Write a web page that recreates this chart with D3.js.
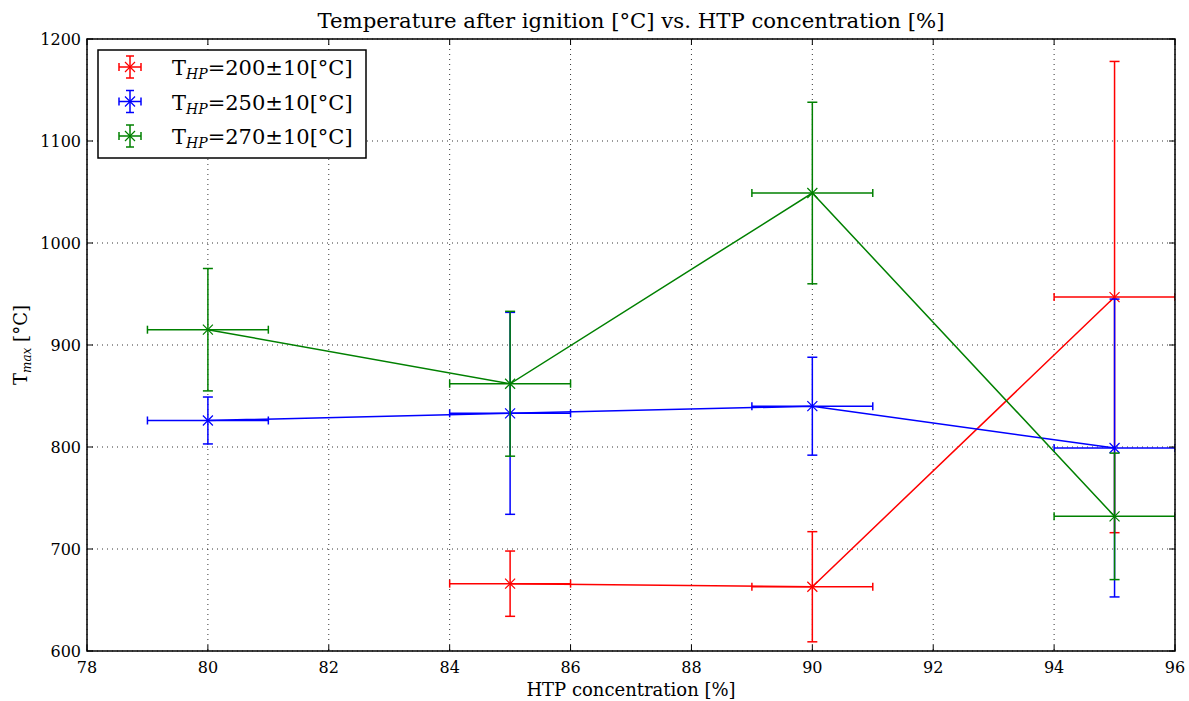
<!DOCTYPE html>
<html>
<head>
<meta charset="utf-8">
<script src="https://cdn.jsdelivr.net/npm/d3@7"></script>
<style>
  body { margin: 0; background: #fff; }
  svg text { font-family: "DejaVu Serif", "Liberation Serif", serif; fill: #000; }
</style>
</head>
<body>
<svg id="chart" width="1189" height="701"></svg>
<script>
// HTP concentration [%] for each measurement
const concentration = [80, 85, 90, 95];

// Series: peak temperature after ignition, with y errors; x error is ±1 %
const seriesNames = ["200", "250", "270"];
const seriesColors = ["#ff0000", "#0000ff", "#008000"];

const tmax200 = [null, 666, 663, 947];
const err200  = [null, 32, 54, 231];

const tmax250 = [826, 833, 840, 799];
const err250  = [23, 99, 48, 146];

const tmax270 = [915, 862, 1049, 732];
const err270  = [60, 71, 89, 62];

const xErr = 1;

const xTicks = [78, 80, 82, 84, 86, 88, 90, 92, 94, 96];
const yTicks = [600, 700, 800, 900, 1000, 1100, 1200];

const series = [
  { name: seriesNames[0], color: seriesColors[0], y: tmax200, e: err200 },
  { name: seriesNames[1], color: seriesColors[1], y: tmax250, e: err250 },
  { name: seriesNames[2], color: seriesColors[2], y: tmax270, e: err270 }
];

const svg = d3.select("#chart");
const pL = 87, pR = 1175, pT = 39, pB = 651;

const x = d3.scaleLinear().domain([78, 96]).range([pL, pR]);
const y = d3.scaleLinear().domain([600, 1200]).range([pB, pT]);

svg.append("defs").append("clipPath").attr("id", "plotClip")
  .append("rect").attr("x", pL).attr("y", pT)
  .attr("width", pR - pL).attr("height", pB - pT);

// dotted grid
const grid = svg.append("g");
grid.selectAll(".gx").data(xTicks).join("line")
  .attr("x1", d => x(d)).attr("x2", d => x(d))
  .attr("y1", pT).attr("y2", pB)
  .attr("stroke", "#000").attr("stroke-width", 0.8).attr("stroke-dasharray", "1,4");
grid.selectAll(".gy").data(yTicks).join("line")
  .attr("x1", pL).attr("x2", pR)
  .attr("y1", d => y(d)).attr("y2", d => y(d))
  .attr("stroke", "#000").attr("stroke-width", 0.8).attr("stroke-dasharray", "1,4");

// data layer
const plot = svg.append("g").attr("clip-path", "url(#plotClip)");
const capV = 5, capH = 4, mk = 5;

series.forEach(s => {
  const pts = concentration.map((c, i) => ({ c, v: s.y[i], e: s.e[i] }))
    .filter(p => p.v !== null);
  const g = plot.append("g");
  // connecting line
  g.append("path").datum(pts)
    .attr("fill", "none").attr("stroke", s.color).attr("stroke-width", 1.5)
    .attr("d", d3.line().x(p => x(p.c)).y(p => y(p.v)));
  pts.forEach(p => {
    const cx = x(p.c), cy = y(p.v);
    const yTop = y(p.v + p.e), yBot = y(p.v - p.e);
    const xl = x(p.c - xErr), xr = x(p.c + xErr);
    const eb = g.append("g").attr("stroke", s.color).attr("stroke-width", 1.5).attr("fill", "none");
    // vertical error bar with caps
    eb.append("line").attr("x1", cx).attr("x2", cx).attr("y1", yTop).attr("y2", yBot);
    eb.append("line").attr("x1", cx - capV).attr("x2", cx + capV).attr("y1", yTop).attr("y2", yTop);
    eb.append("line").attr("x1", cx - capV).attr("x2", cx + capV).attr("y1", yBot).attr("y2", yBot);
    // horizontal error bar with caps
    eb.append("line").attr("x1", xl).attr("x2", xr).attr("y1", cy).attr("y2", cy);
    eb.append("line").attr("x1", xl).attr("x2", xl).attr("y1", cy - capH).attr("y2", cy + capH);
    eb.append("line").attr("x1", xr).attr("x2", xr).attr("y1", cy - capH).attr("y2", cy + capH);
    // x marker
    eb.append("path").attr("stroke-width", 1.2)
      .attr("d", `M${cx - mk},${cy - mk}L${cx + mk},${cy + mk}M${cx - mk},${cy + mk}L${cx + mk},${cy - mk}`);
  });
});

// frame and inward ticks on all four sides
const axes = svg.append("g").attr("stroke", "#000");
axes.append("rect").attr("x", pL).attr("y", pT)
  .attr("width", pR - pL).attr("height", pB - pT)
  .attr("fill", "none").attr("stroke-width", 1.5);
const tl = 6;
xTicks.forEach(t => {
  axes.append("line").attr("x1", x(t)).attr("x2", x(t)).attr("y1", pB).attr("y2", pB - tl).attr("stroke-width", 1);
  axes.append("line").attr("x1", x(t)).attr("x2", x(t)).attr("y1", pT).attr("y2", pT + tl).attr("stroke-width", 1);
});
yTicks.forEach(t => {
  axes.append("line").attr("x1", pL).attr("x2", pL + tl).attr("y1", y(t)).attr("y2", y(t)).attr("stroke-width", 1);
  axes.append("line").attr("x1", pR).attr("x2", pR - tl).attr("y1", y(t)).attr("y2", y(t)).attr("stroke-width", 1);
});

// tick labels
svg.append("g").selectAll("text").data(xTicks).join("text")
  .attr("x", d => x(d)).attr("y", pB + 22)
  .attr("text-anchor", "middle").attr("font-size", 16)
  .text(d => d);
svg.append("g").selectAll("text").data(yTicks).join("text")
  .attr("x", pL - 6).attr("y", d => y(d) + 6)
  .attr("text-anchor", "end").attr("font-size", 16)
  .text(d => d);

// title and axis labels
svg.append("text").attr("x", 631).attr("y", 28)
  .attr("text-anchor", "middle").attr("font-size", 21)
  .attr("textLength", 627).attr("lengthAdjust", "spacingAndGlyphs")
  .text("Temperature after ignition [°C] vs. HTP concentration [%]");
svg.append("text").attr("x", 631).attr("y", 696)
  .attr("text-anchor", "middle").attr("font-size", 18)
  .text("HTP concentration [%]");
const yl = svg.append("text")
  .attr("transform", `translate(27,${(pT + pB) / 2}) rotate(-90)`)
  .attr("text-anchor", "middle").attr("font-size", 18);
yl.append("tspan").text("T");
yl.append("tspan").attr("font-style", "italic").attr("font-size", 12).attr("dy", 4).text("max");
yl.append("tspan").attr("dy", -4).text(" [°C]");

// legend
const lg = svg.append("g");
lg.append("rect").attr("x", 98).attr("y", 50).attr("width", 268).attr("height", 108)
  .attr("fill", "#fff").attr("stroke", "#000").attr("stroke-width", 1.5);
series.forEach((s, i) => {
  const cy = 67 + i * 34.5, cx = 130;
  const g = lg.append("g").attr("stroke", s.color).attr("stroke-width", 1.5).attr("fill", "none");
  g.append("line").attr("x1", cx).attr("x2", cx).attr("y1", cy - 11).attr("y2", cy + 11);
  g.append("line").attr("x1", cx - 4).attr("x2", cx + 4).attr("y1", cy - 11).attr("y2", cy - 11);
  g.append("line").attr("x1", cx - 4).attr("x2", cx + 4).attr("y1", cy + 11).attr("y2", cy + 11);
  g.append("line").attr("x1", cx - 11).attr("x2", cx + 11).attr("y1", cy).attr("y2", cy);
  g.append("line").attr("x1", cx - 11).attr("x2", cx - 11).attr("y1", cy - 4).attr("y2", cy + 4);
  g.append("line").attr("x1", cx + 11).attr("x2", cx + 11).attr("y1", cy - 4).attr("y2", cy + 4);
  g.append("path").attr("stroke-width", 1.2)
    .attr("d", `M${cx - mk},${cy - mk}L${cx + mk},${cy + mk}M${cx - mk},${cy + mk}L${cx + mk},${cy - mk}`);
  const t = lg.append("text").attr("x", 172).attr("y", cy + 8).attr("font-size", 21);
  t.append("tspan").text("T");
  t.append("tspan").attr("font-style", "italic").attr("font-size", 14).attr("dy", 4).text("HP");
  t.append("tspan").attr("dy", -4).text(`=${s.name}±10[°C]`);
});
</script>
</body>
</html>
